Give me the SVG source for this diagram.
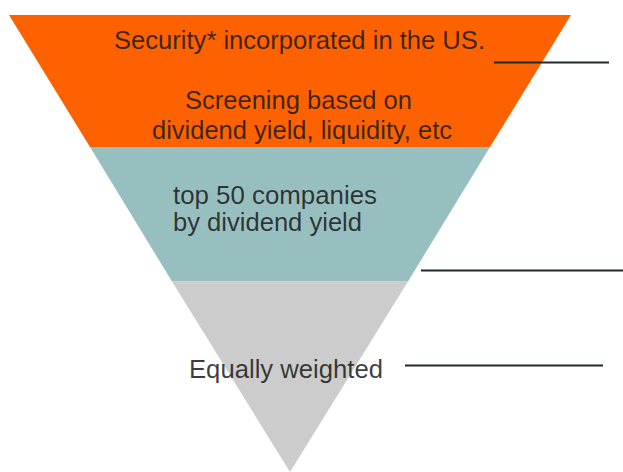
<svg xmlns="http://www.w3.org/2000/svg" width="623" height="472" viewBox="0 0 623 472">
  <style>
    .lbl { font-family: "Liberation Sans", Arial, sans-serif; font-size: 25px; fill: #1a1a1a; fill-opacity: 0.85; }
    .rule { stroke: #1f2b2b; stroke-width: 2; fill: none; }
  </style>
  <rect width="623" height="472" fill="#ffffff"/>

  <!-- funnel bands, top to bottom -->
  <g id="band-universe">
    <polygon points="9,15 571,15 490,147 90,147" fill="#fe6100"/>
    <text class="lbl" x="299.5" y="49" text-anchor="middle" textLength="371" lengthAdjust="spacingAndGlyphs">Security* incorporated in the US.</text>
    <text class="lbl" x="298.5" y="108.5" text-anchor="middle" textLength="227" lengthAdjust="spacingAndGlyphs">Screening based on</text>
    <text class="lbl" x="302" y="138.5" text-anchor="middle" textLength="300" lengthAdjust="spacingAndGlyphs">dividend yield, liquidity, etc</text>
  </g>

  <g id="band-selection">
    <polygon points="90,147 490,147 408,281.5 172,281.5" fill="#98bfc0"/>
    <text class="lbl" x="173" y="203.5" textLength="204" lengthAdjust="spacingAndGlyphs">top 50 companies</text>
    <text class="lbl" x="173" y="230.5" textLength="189" lengthAdjust="spacingAndGlyphs">by dividend yield</text>
  </g>

  <g id="band-weighting">
    <polygon points="172,281.5 408,281.5 290,472" fill="#cccccc"/>
    <text class="lbl" x="189" y="378" textLength="194" lengthAdjust="spacingAndGlyphs">Equally weighted</text>
  </g>

  <!-- side rules -->
  <g id="connectors">
    <line class="rule" x1="494" y1="62.5" x2="609" y2="62.5"/>
    <line class="rule" x1="421" y1="270.5" x2="623" y2="270.5"/>
    <line class="rule" x1="405" y1="365.5" x2="603" y2="365.5"/>
  </g>
</svg>
